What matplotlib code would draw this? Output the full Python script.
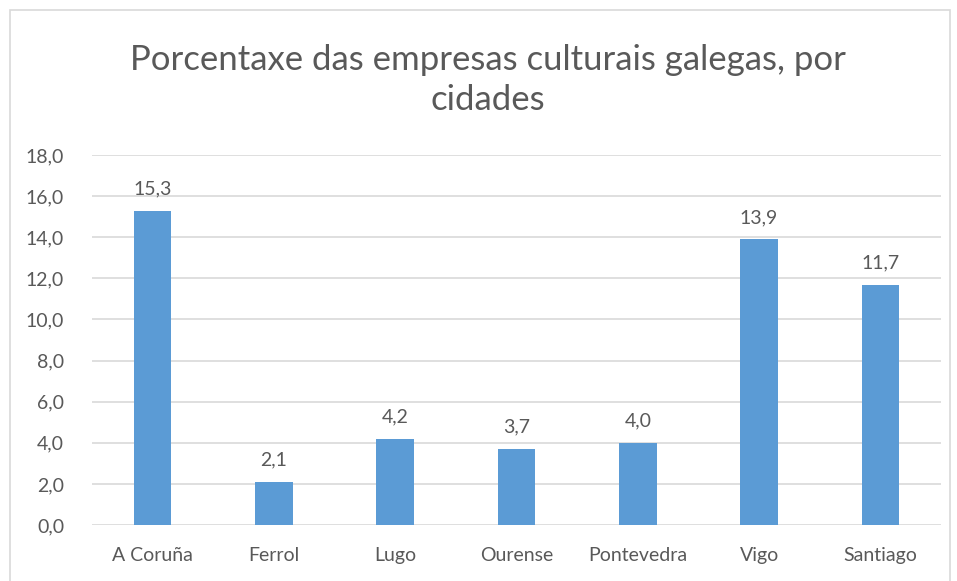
import matplotlib.pyplot as plt
from matplotlib.patches import Rectangle

cidades = ["A Coruña", "Ferrol", "Lugo", "Ourense", "Pontevedra", "Vigo", "Santiago"]
porcentaxe = [15.3, 2.1, 4.2, 3.7, 4.0, 13.9, 11.7]
yticks = [0, 2, 4, 6, 8, 10, 12, 14, 16, 18]

plt.rcParams["font.family"] = ["Lato", "DejaVu Sans"]
txt = "#595959"
grid = "#d9d9d9"

fig = plt.figure(figsize=(9.57, 5.81), dpi=100)
fig.patches.append(Rectangle((10 / 957, -0.1), 940 / 957, 1 - 10 / 581 + 0.1,
                             transform=fig.transFigure, fill=False,
                             edgecolor=grid, linewidth=1.2))
ax = fig.add_axes([0.0961, 0.0964, 0.8872, 0.6368])

x = range(len(cidades))
ax.bar(x, porcentaxe, width=0.31, color="#5b9bd5", zorder=3)
for xi, v in zip(x, porcentaxe):
    ax.text(xi, v + 0.65, f"{v:.1f}".replace(".", ","), ha="center", va="bottom",
            fontsize=14, color=txt)

ax.set_xlim(-0.5, len(cidades) - 0.5)
ax.set_ylim(0, 18)
ax.set_yticks(yticks)
ax.set_yticklabels([f"{t:.1f}".replace(".", ",") for t in yticks], fontsize=14, color=txt)
ax.set_xticks(list(x))
ax.set_xticklabels(cidades, fontsize=14, color=txt)
ax.tick_params(length=0)
ax.tick_params(axis="x", pad=16)
ax.tick_params(axis="y", pad=20)
ax.grid(axis="y", color=grid, linewidth=1.2, zorder=0)
for s in ax.spines.values():
    s.set_visible(False)

fig.text(0.51, 0.862, "Porcentaxe das empresas culturais galegas, por\ncidades",
         ha="center", va="center", fontsize=25, color=txt, linespacing=1.3)

fig.savefig("out.png", dpi=100)
